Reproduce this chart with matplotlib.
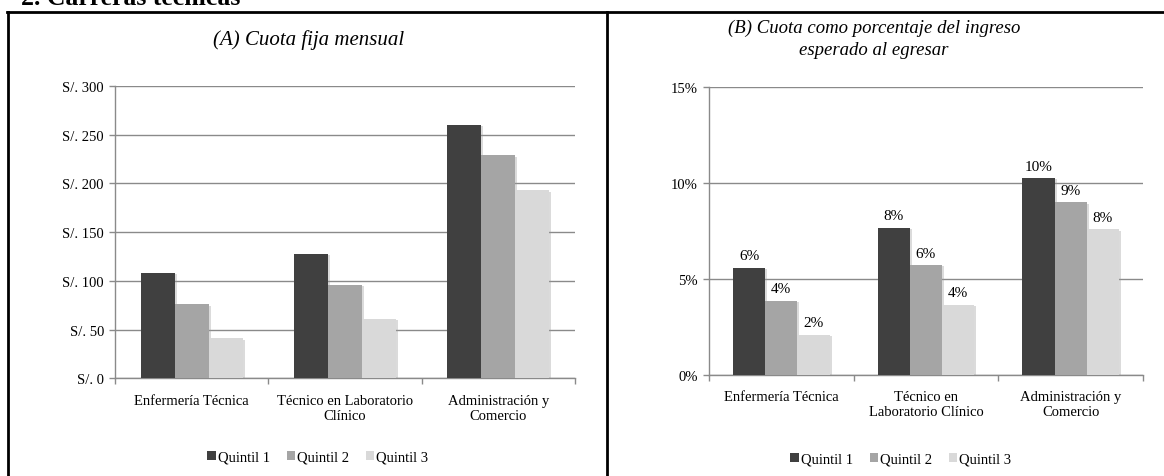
import matplotlib
matplotlib.use("Agg")
import matplotlib.pyplot as plt
import matplotlib.patheffects as pe
from matplotlib.lines import Line2D
import numpy as np

# ---- data ----
categories_a = ["Enfermería Técnica", "Técnico en Laboratorio\nClínico", "Administración y\nComercio"]
categories_b = ["Enfermería Técnica", "Técnico en\nLaboratorio Clínico", "Administración y\nComercio"]
series_names = ["Quintil 1", "Quintil 2", "Quintil 3"]
cuota_q1 = [108, 128, 260]
cuota_q2 = [76, 96, 229]
cuota_q3 = [41, 61, 193]
pct_q1 = [5.56, 7.64, 10.24]
pct_q2 = [3.85, 5.71, 8.98]
pct_q3 = [2.07, 3.63, 7.57]
pct_labels_q1 = ["6%", "8%", "10%"]
pct_labels_q2 = ["4%", "6%", "9%"]
pct_labels_q3 = ["2%", "4%", "8%"]
yticks_a = [0, 50, 100, 150, 200, 250, 300]
yticks_b = [0, 5, 10, 15]
title_a = "(A) Cuota fija mensual"
title_b = "(B) Cuota como porcentaje del ingreso\nesperado al egresar"
header = "2. Carreras técnicas"

colors = ["#404040", "#a5a5a5", "#d9d9d9"]
grid_c = "#8a8a8a"

plt.rcParams['font.family'] = ['Liberation Serif', 'DejaVu Serif']

W, H = 1164, 477
fig = plt.figure(figsize=(W / 100, H / 100), dpi=100)


def fx(px):
    return px / W


def fy(py):
    return 1 - py / H


def setup(ax, cats, yt, fmt, ymax):
    ax.set_xlim(0, len(cats))
    ax.set_ylim(0, ymax)
    ax.set_yticks(yt)
    ax.set_yticklabels([fmt(v) for v in yt])
    ax.yaxis.grid(True, color=grid_c, linewidth=1.0)
    ax.set_axisbelow(True)
    for s in ["top", "right"]:
        ax.spines[s].set_visible(False)
    for s in ["left", "bottom"]:
        ax.spines[s].set_color(grid_c)
        ax.spines[s].set_linewidth(1.0)
    ax.set_xticks(np.arange(len(cats) + 1))
    ax.set_xticklabels([])
    ax.set_xticks(np.arange(len(cats)) + 0.5, minor=True)
    ax.set_xticklabels(cats, minor=True, fontsize=10.5, linespacing=1.25)
    ax.tick_params(axis="x", which="major", length=4, color=grid_c, width=1)
    ax.tick_params(axis="x", which="minor", length=0, pad=11)
    ax.tick_params(axis="y", length=4, color=grid_c, width=1, labelsize=10.5, pad=4)


bw = 0.222
shadow = [pe.SimplePatchShadow(offset=(1.5, -1.0), shadow_rgbFace="0.6", alpha=0.35), pe.Normal()]

# ---- panel A ----
axA = fig.add_axes([fx(115), fy(379.3), fx(575) - fx(115), (379.3 - 87) / H])
setup(axA, categories_a, yticks_a, lambda v: f"S/. {v}", 300)
x = np.arange(len(categories_a)) + 0.5
barsA = []
for i, vals in enumerate([cuota_q1, cuota_q2, cuota_q3]):
    b = axA.bar(x + (i - 1) * bw, vals, width=bw, color=colors[i], label=series_names[i],
                zorder=3, path_effects=shadow)
    barsA.append(b)

# ---- panel B ----
axB = fig.add_axes([fx(709), fy(375.7), fx(1143) - fx(709), (375.7 - 87.7) / H])
setup(axB, categories_b, yticks_b, lambda v: f"{v}%", 15)
x = np.arange(len(categories_b)) + 0.5
barsB = []
for i, (vals, labs) in enumerate(zip([pct_q1, pct_q2, pct_q3],
                                     [pct_labels_q1, pct_labels_q2, pct_labels_q3])):
    b = axB.bar(x + (i - 1) * bw, vals, width=bw, color=colors[i], label=series_names[i],
                zorder=3, path_effects=shadow)
    barsB.append(b)
    axB.bar_label(b, labels=labs, padding=4, fontsize=11)

# ---- titles ----
fig.text(fx(309), fy(40), title_a, ha="center", va="center", fontsize=15, style="italic")
fig.text(fx(874), fy(39.5), title_b, ha="center", va="center", fontsize=13.5, style="italic",
         linespacing=1.4)
fig.text(fx(21), fy(5), header, ha="left", va="baseline", fontsize=18.5, fontweight="bold")

# ---- legends ----
legkw = dict(ncol=3, frameon=False, fontsize=10.5, handlelength=0.6, handleheight=0.6,
             handletextpad=0.15, columnspacing=1.1, borderaxespad=0, borderpad=0)
fig.legend(handles=[b[0] for b in barsA], labels=series_names, loc="center",
           bbox_to_anchor=(fx(318), fy(458)), **legkw)
fig.legend(handles=[b[0] for b in barsB], labels=series_names, loc="center",
           bbox_to_anchor=(fx(901), fy(460)), **legkw)
for leg in fig.legends:
    for h in leg.legend_handles:
        h.set_path_effects([])

# ---- frame lines ----
fig.add_artist(Line2D([fx(8), fx(8)], [fy(13), 0], color="black", linewidth=2.0))
fig.add_artist(Line2D([fx(7), 1], [fy(13), fy(13)], color="black", linewidth=2.0))
fig.add_artist(Line2D([fx(607), fx(607)], [fy(13), 0], color="black", linewidth=2.0))

fig.savefig("out.png", dpi=100)
